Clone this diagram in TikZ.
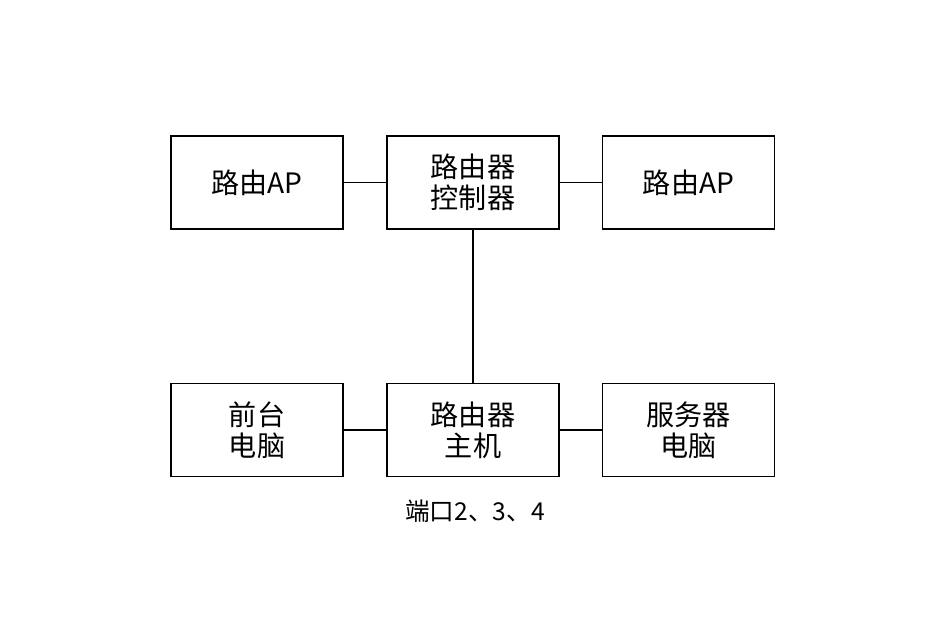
\documentclass[tikz,border=0pt]{standalone}
\usepackage{fontspec}
\setmainfont{Noto Sans CJK SC}

\tikzset{
  box/.style={draw, line width=0.6pt, minimum width=3.44cm, minimum height=1.86cm,
              align=center, font=\fontsize{16}{17.5}\selectfont, inner sep=0pt},
  wire/.style={line width=0.6pt}
}

\begin{document}
\begin{tikzpicture}
            \useasboundingbox (0,0) rectangle (18.9,12.6);
            % top row
            \node [box] (apL)  at (5.14,8.95)  {路由AP};
            \node [box] (ctrl) at (9.46,8.95)  {路由器\\控制器};
            \node [box] (apR)  at (13.77,8.95) {路由AP};
            % bottom row
            \node [box] (pc)   at (5.14,4.0)   {前台\\电脑};
            \node [box] (host) at (9.46,4.0)   {路由器\\主机};
            \node [box] (srv)  at (13.77,4.0)  {服务器\\电脑};
            \node [font=\fontsize{14}{16}\selectfont] (port) at (9.5,2.38) {端口2、3、4};
            \draw [wire] (apL) -- (ctrl);
            \draw [wire] (ctrl) -- (apR);
            \draw [wire] (ctrl) -- (host);
            \draw [wire] (pc) -- (host);
            \draw [wire] (host) -- (srv);
        \end{tikzpicture}
\end{document}
